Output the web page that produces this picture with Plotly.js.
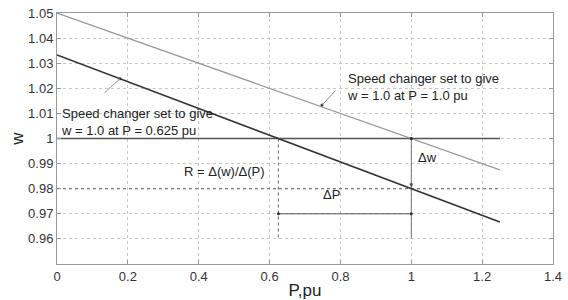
<!DOCTYPE html>
<html><head><meta charset="utf-8">
<script src="https://cdn.plot.ly/plotly-3.0.1.min.js"></script>
<style>body{margin:0;background:#fff}#c{width:568px;height:300px}</style>
</head><body><div id="c"></div>
<script>
// Data
const pLine = [0, 1.25];
const wUpper = [1.05, 0.9875];      // set to give w=1.0 at P=1.0 pu
const wLower = [1.0333, 0.9667];    // set to give w=1.0 at P=0.625 pu
const wRef = [1.0, 1.0];
const wDot = [0.98, 0.98];
const p1 = 0.625, p2 = 1.0;
const wVert = [1.0, 0.96];
const wDeltaP = 0.97;
const xTicks = [0, 0.2, 0.4, 0.6, 0.8, 1, 1.2, 1.4];
const yTicks = [0.96, 0.97, 0.98, 0.99, 1, 1.01, 1.02, 1.03, 1.04, 1.05];
const pointerTipsP = [0.178, 0.748];
const pointerTipsW = [1.0238, 1.0133];

const traces = [
  {x: pLine, y: wRef, mode: 'lines', line: {color: '#555', width: 1.3}},
  {x: pLine, y: wDot, mode: 'lines', line: {color: '#777', width: 1.2, dash: 'dot'}},
  {x: [p1, p1], y: wVert, mode: 'lines', line: {color: '#777', width: 1.1, dash: 'dot'}},
  {x: [p2, p2], y: wVert, mode: 'lines', line: {color: '#777', width: 1}},
  {x: [p1, p2], y: [wDeltaP, wDeltaP], mode: 'lines+markers', line: {color: '#555', width: 1}, marker: {size: 3, color: '#333'}},
  {x: pLine, y: wUpper, mode: 'lines', line: {color: '#999', width: 1.2}},
  {x: pLine, y: wLower, mode: 'lines', line: {color: '#333', width: 1.6}},
  {x: [p2], y: [1.0], mode: 'markers', marker: {size: 3, color: '#222'}},
  {x: pointerTipsP, y: pointerTipsW, mode: 'markers', marker: {size: 3, color: '#333'}}
];

const f = {family: 'Liberation Sans, Arial, sans-serif', size: 13, color: '#222'};
const layout = {
  width: 568, height: 300,
  margin: {l: 57, r: 15, t: 13, b: 36},
  paper_bgcolor: '#fff', plot_bgcolor: '#fff',
  showlegend: false,
  font: f,
  xaxis: {range: [0, 1.4], tickvals: xTicks, ticktext: xTicks.map(String),
    showgrid: true, gridcolor: '#c8c8c8', griddash: 'dot', gridwidth: 1,
    zeroline: false, showline: true, mirror: 'ticks', linecolor: '#999', linewidth: 1,
    ticks: 'inside', ticklen: 4, tickcolor: '#999', tickfont: {size: 13, color: '#333'},
    title: {text: 'P,pu', font: {size: 17, color: '#222'}, standoff: 4}},
  yaxis: {range: [0.95, 1.05], tickvals: yTicks, ticktext: yTicks.map(String),
    showgrid: true, gridcolor: '#c8c8c8', griddash: 'dot', gridwidth: 1,
    zeroline: false, showline: true, mirror: 'ticks', linecolor: '#999', linewidth: 1,
    ticks: 'inside', ticklen: 4, tickcolor: '#999', tickfont: {size: 13, color: '#333'},
    title: {text: 'w', font: {size: 17, color: '#222'}, standoff: 0}},
  annotations: [
    {x: 0.748, y: 1.0133, xref: 'x', yref: 'y', ax: 0.79, ay: 1.0197, axref: 'x', ayref: 'y',
      text: '', showarrow: true, arrowhead: 0, arrowcolor: '#888', arrowwidth: 1, standoff: 0},
    {x: 0.812, y: 1.0275, xref: 'x', yref: 'y', showarrow: false, xanchor: 'left', yanchor: 'top',
      align: 'left', text: 'Speed changer set to give<br>w = 1.0 at P = 1.0 pu', font: {size: 13, color: '#222'}},
    {x: 0.178, y: 1.0238, xref: 'x', yref: 'y', ax: 0.13, ay: 1.0177, axref: 'x', ayref: 'y',
      text: '', showarrow: true, arrowhead: 0, arrowcolor: '#999', arrowwidth: 1, standoff: 0},
    {x: 0.006, y: 1.0137, xref: 'x', yref: 'y', showarrow: false, xanchor: 'left', yanchor: 'top',
      align: 'left', text: 'Speed changer set to give<br>w = 1.0 at P = 0.625 pu', font: {size: 13, color: '#222'}},
    {x: 0.474, y: 0.9868, xref: 'x', yref: 'y', showarrow: false,
      text: 'R = Δ(w)/Δ(P)', font: {size: 13, color: '#222'}},
    {x: 1.012, y: 0.9926, xref: 'x', yref: 'y', showarrow: false, xanchor: 'left',
      text: 'Δw', font: {size: 13, color: '#222'}},
    {x: 0.776, y: 0.9775, xref: 'x', yref: 'y', showarrow: false,
      text: 'ΔP', font: {size: 13, color: '#222'}},
    {x: 1.0, y: 0.9805, xref: 'x', yref: 'y', ax: 1.0, ay: 0.983, axref: 'x', ayref: 'y',
      text: '', showarrow: true, arrowhead: 2, arrowsize: 0.8, arrowcolor: '#555', arrowwidth: 1, standoff: 0}
  ]
};
Plotly.newPlot('c', traces, layout, {displayModeBar: false, staticPlot: true});
</script></body></html>
